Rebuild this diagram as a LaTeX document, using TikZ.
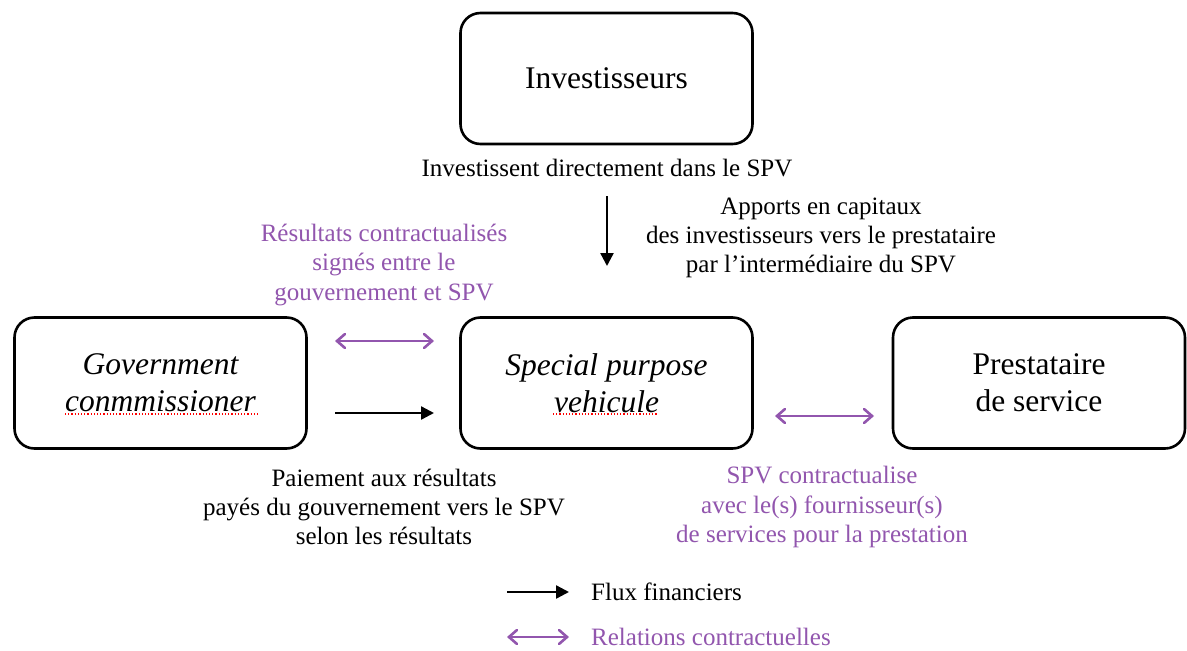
\documentclass[tikz,border=0pt]{standalone}
\usepackage{fontspec}
\setmainfont{Liberation Serif}
\usetikzlibrary{arrows.meta}
\definecolor{purp}{RGB}{146,86,174}
\tikzset{
  box/.style={draw=black, line width=2.6pt, rounded corners=20pt, minimum width=292pt, minimum height=131pt, inner sep=0pt, align=center, font=\fontsize{31.5}{37}\selectfont},
  lbl/.style={align=center, font=\fontsize{25}{29.2}\selectfont, inner sep=0pt},
  fin/.style={line width=2.4pt, -{Triangle[length=13pt,width=13pt]}},
  con/.style={purp, line width=2.6pt, {Straight Barb[length=8pt,width=14pt,line cap=round]}-{Straight Barb[length=8pt,width=14pt,line cap=round]}},
  spell/.style={red, line width=1.2pt, dotted}
}
\begin{document}
\begin{tikzpicture}[x=1pt,y=-1pt]
\useasboundingbox[fill=white] (0,0) rectangle (1187,651);
\node[box] (inv) at (606.5,78.5) {Investisseurs};
\node[box] (gov) at (160.5,383) {\itshape Government\\\itshape conmmissioner};
\node[box] (spv) at (606.5,383) {\itshape Special purpose\\\itshape vehicule};
\node[box] (pre) at (1039,383) {Prestataire\\de service};

\node[lbl] (t1) at (607,168) {Investissent directement dans le SPV};
\node[lbl] (t2) at (821,238) {Apports en capitaux\\des investisseurs vers le prestataire\\par l’intermédiaire du SPV};
\node[lbl, text=purp] (t3) at (384,265) {Résultats contractualisés\\signés entre le\\gouvernement et SPV};
\node[lbl] (t4) at (384,507) {Paiement aux résultats\\payés du gouvernement vers le SPV\\selon les résultats};
\node[lbl, text=purp] (t5) at (822,507) {SPV contractualise\\avec le(s) fournisseur(s)\\de services pour la prestation};

\coordinate (a1s) at (607,196);
\coordinate (a1e) at (607,266);
\draw[fin] (a1s) -- (a1e);
\coordinate (a2s) at (335,341);
\coordinate (a2e) at (434,341);
\draw[con] (a2s) -- (a2e);
\coordinate (a3s) at (335,413);
\coordinate (a3e) at (434,413);
\draw[fin] (a3s) -- (a3e);
\coordinate (a4s) at (775,416);
\coordinate (a4e) at (874,416);
\draw[con] (a4s) -- (a4e);

% spell-check underlines
\draw[spell] (65,414) -- (258,414);
\draw[spell] (553,414) -- (658,414);

% legend
\coordinate (l1s) at (507,592);
\coordinate (l1e) at (569,592);
\draw[fin] (l1s) -- (l1e);
\node[lbl, anchor=west] (lg1) at (591,592) {Flux financiers};
\coordinate (l2s) at (507,637);
\coordinate (l2e) at (569,637);
\draw[con] (l2s) -- (l2e);
\node[lbl, anchor=west, text=purp] (lg2) at (591,637) {Relations contractuelles};
\end{tikzpicture}
\end{document}
